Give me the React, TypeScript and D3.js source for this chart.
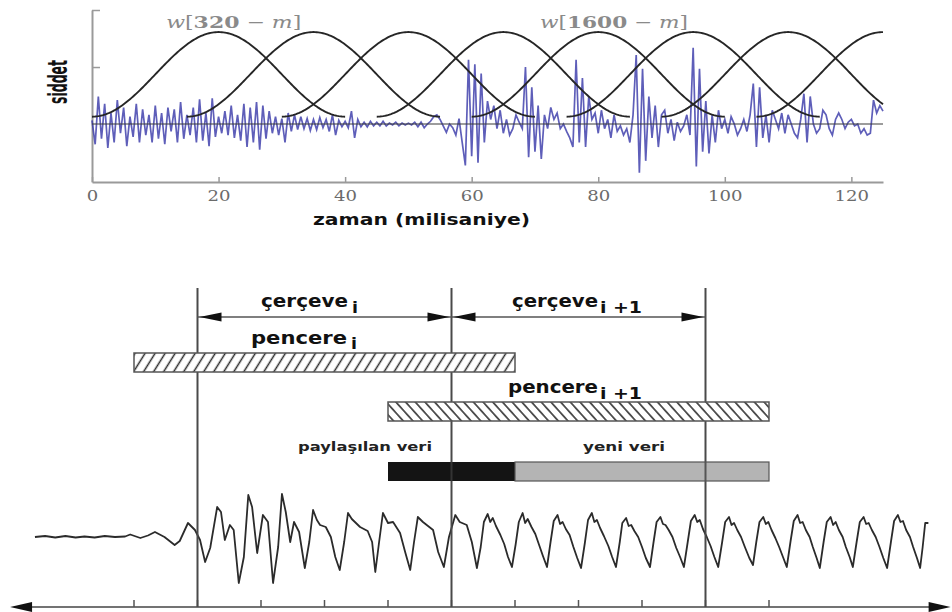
import React, { useRef, useEffect } from "react";
import * as d3 from "d3";

// ---------- top panel: windowed speech signal ----------
// amplitude sampled every 0.5 ms from 0 to 125 ms
const sampleStep = 0.5;
const signal = [
  0.04, -0.22, 0.3, -0.16, 0.22, -0.26, 0.12, -0.2, 0.26, -0.1,
  0.18, -0.24, 0.08, -0.14, 0.22, -0.2, 0.16, -0.12, 0.1, -0.2,
  0.2, -0.16, 0.12, -0.22, 0.18, -0.08, 0.16, -0.2, 0.24, -0.16,
  0.1, -0.12, 0.18, -0.2, 0.27, -0.18, 0.12, -0.24, 0.28, -0.14,
  0.08, -0.1, 0.14, -0.12, 0.2, -0.15, 0.1, -0.18, 0.22, -0.25,
  0.18, -0.2, 0.24, -0.28, 0.2, -0.16, 0.14, -0.1, 0.08, -0.12,
  0.06, -0.2, 0.12, -0.08, 0.1, -0.06, 0.08, -0.05, 0.06, -0.07,
  0.05, -0.06, 0.07, -0.04, 0.05, -0.08, 0.1, -0.12, 0.04, -0.03,
  0.03, -0.04, 0.14, -0.15, 0.05, -0.03, 0.02, -0.03, 0.03, -0.02,
  0.02, -0.02, 0.03, -0.02, 0.01, -0.01, 0.02, -0.02, 0.01, -0.01,
  0.01, -0.01, 0.02, -0.03, 0.02, -0.04, 0.0, 0.03, 0.08, 0.1,
  0.05, -0.02, -0.09, 0.0, -0.04, -0.12, 0.06, -0.2, -0.45, 0.7,
  -0.35, 0.65, -0.42, 0.55, -0.2, 0.25, 0.05, 0.2, -0.05, 0.15,
  -0.1, 0.05, -0.12, -0.05, 0.1, 0.02, -0.05, 0.62, -0.36, 0.4,
  -0.3, 0.2, -0.38, 0.1, -0.05, 0.18, 0.05, 0.12, -0.05, 0.0,
  -0.08, -0.15, -0.25, 0.7, -0.2, 0.5, -0.25, 0.3, 0.05, 0.12,
  -0.1, 0.15, -0.05, 0.05, -0.15, 0.1, -0.08, -0.02, -0.12, -0.05,
  -0.2, 0.1, 0.75, -0.53, 0.6, -0.4, 0.3, -0.15, 0.2, -0.25,
  0.1, 0.15, -0.1, 0.05, -0.18, 0.02, -0.08, -0.02, 0.1, -0.12,
  0.83, -0.46, 0.6, -0.3, 0.25, -0.32, 0.1, -0.2, 0.15, -0.05,
  0.05, -0.1, 0.08, 0.0, -0.12, -0.05, 0.05, -0.08, 0.1, 0.44,
  -0.25, 0.4, -0.15, 0.1, -0.2, 0.15, 0.05, -0.05, 0.12, -0.1,
  0.1, 0.0, -0.1, -0.15, 0.05, 0.33, -0.2, 0.3, 0.0, -0.1,
  -0.05, 0.15, 0.1, -0.05, -0.12, 0.05, 0.12, 0.05, -0.05, 0.02,
  0.05, -0.02, 0.0, -0.1, -0.05, -0.12, -0.1, 0.26, 0.12, 0.2,
  0.14,
];
const windowCenters = [20, 35, 50, 65, 80, 95, 110, 125];
const windowLength = 40; // ms (320 samples)
const windowLabelNums = ["320", "1600"];
const windowLabelAt = [22.4, 82.5];
const windowLabelWidth = [135, 148];
const timeTicks = [0, 20, 40, 60, 80, 100, 120];
const levelTicks = [0.62, 1.24];

// ---------- bottom panel: frames and windows ----------
const frameBounds = [5, 25, 45]; // ms
const windowStart = [0, 20];
const windowEnd = [30, 50];
const sharedSpan = [20, 30];
const newSpan = [30, 50];
const axisTicks = [0, 5, 10, 15, 20, 25, 30, 35, 40, 45, 50];
const axisExtent = [-9.76, 64.3];

// speech waveform vertices [ms, amplitude]
const speechWave: [number, number][] = [
  [-7.8, 0.0], [-7.0, 0.02], [-6.2, -0.01], [-5.4, 0.02], [-4.6, -0.01], [-3.9, 0.01],
  [-3.1, -0.01], [-2.3, 0.02], [-1.5, 0.0], [-0.7, 0.01], [-0.3, 0.05], [0.5, -0.02],
  [1.1, 0.03], [1.65, 0.1], [2.4, 0.0], [3.2, -0.16], [3.6, -0.08], [4.25, 0.28],
  [4.8, 0.14], [5.2, -0.06], [5.6, -0.5], [6.0, -0.22], [6.55, 0.6], [6.85, 0.5],
  [7.15, -0.06], [7.55, 0.24], [7.85, 0.14], [8.25, -0.92], [8.65, -0.4], [9.0, 0.84],
  [9.3, 0.6], [9.7, -0.32], [10.15, 0.44], [10.55, 0.3], [10.95, -0.92], [11.35, -0.2],
  [11.65, 0.86], [11.95, 0.5], [12.3, -0.1], [12.6, 0.3], [13.0, 0.1], [13.45, -0.62],
  [13.8, -0.1], [14.1, 0.54], [14.4, 0.34], [14.65, 0.24], [15.1, 0.2], [15.5, 0.0],
  [15.85, -0.4], [16.2, -0.66], [16.55, -0.1], [16.85, 0.48], [17.15, 0.36], [17.8, 0.2],
  [18.4, 0.12], [18.75, -0.1], [19.0, -0.7], [19.3, -0.1], [19.6, 0.48], [20.0, 0.28],
  [20.4, 0.3], [20.95, 0.08], [21.35, -0.3], [21.75, -0.66], [22.05, -0.1], [22.35, 0.4],
  [22.75, 0.3], [23.15, 0.22], [23.55, 0.14], [23.95, -0.3], [24.4, -0.6], [24.8, 0.0],
  [25.3, 0.44], [25.65, 0.3], [26.2, 0.24], [26.6, -0.1],
  [27.0, -0.62], [27.3, -0.2], [27.55, 0.3], [27.85, 0.46], [28.05, 0.3], [28.25, 0.38], [28.5, 0.22], [28.85, 0.04], [29.15, -0.14], [29.45, -0.4],
  [29.76, -0.6], [30.05, -0.15], [30.3, 0.3], [30.6, 0.48], [30.8, 0.28], [31.0, 0.36], [31.3, 0.2], [31.6, 0.06], [31.9, -0.16], [32.2, -0.38],
  [32.52, -0.6], [32.8, -0.1], [33.05, 0.32], [33.35, 0.44], [33.55, 0.26], [33.75, 0.3], [34.0, 0.16], [34.3, 0.04], [34.6, -0.2], [34.9, -0.42],
  [35.2, -0.62], [35.5, -0.12], [35.75, 0.34], [36.05, 0.48], [36.25, 0.3], [36.45, 0.34], [36.7, 0.18], [37.0, 0.02], [37.35, -0.18], [37.65, -0.4],
  [37.95, -0.6], [38.25, -0.1], [38.45, 0.28], [38.75, 0.38], [38.95, 0.22], [39.15, 0.24], [39.4, 0.12], [39.7, 0.0], [40.0, -0.2], [40.3, -0.42],
  [40.63, -0.6], [40.9, -0.12], [41.15, 0.3], [41.45, 0.4], [41.65, 0.26], [41.85, 0.24], [42.1, 0.14], [42.4, 0.0], [42.7, -0.22], [43.0, -0.4],
  [43.3, -0.6], [43.6, -0.1], [43.85, 0.32], [44.15, 0.44], [44.35, 0.3], [44.55, 0.34], [44.8, 0.16], [45.1, 0.0], [45.4, -0.18], [45.7, -0.4],
  [46.0, -0.6], [46.3, -0.12], [46.55, 0.3], [46.85, 0.4], [47.05, 0.24], [47.25, 0.28], [47.5, 0.14], [47.8, 0.0], [48.1, -0.2], [48.45, -0.42],
  [48.74, -0.56], [49.0, -0.1], [49.25, 0.3], [49.55, 0.4], [49.75, 0.26], [49.95, 0.3], [50.2, 0.14], [50.5, -0.02], [50.8, -0.2], [51.1, -0.4],
  [51.4, -0.6], [51.7, -0.08], [51.95, 0.32], [52.25, 0.44], [52.45, 0.28], [52.65, 0.3], [52.9, 0.14], [53.2, 0.0], [53.45, -0.2], [53.75, -0.42],
  [54.0, -0.62], [54.3, -0.1], [54.55, 0.3], [54.85, 0.4], [55.05, 0.24], [55.25, 0.3], [55.5, 0.14], [55.8, 0.0], [56.05, -0.2], [56.35, -0.4],
  [56.6, -0.6], [56.9, -0.1], [57.15, 0.3], [57.45, 0.4], [57.65, 0.26], [57.85, 0.28], [58.1, 0.14], [58.4, 0.0], [58.7, -0.2], [59.0, -0.42],
  [59.3, -0.62], [59.6, -0.1], [59.85, 0.32], [60.15, 0.44], [60.35, 0.3], [60.55, 0.32], [60.8, 0.14], [61.1, 0.0], [61.35, -0.2], [61.65, -0.42],
  [61.9, -0.62], [62.1, -0.2], [62.3, 0.28], [62.55, 0.28],
];

const Chart = () => {
  const canvas = useRef<HTMLDivElement>(null);

  const drawChart = () => {
    const width = 952;
    const height = 612;
    const root = d3.select(canvas.current);
    root.selectAll("*").remove();

    const svg = root.append("svg")
      .attr("width", width)
      .attr("height", height)
      .style("position", "absolute")
      .style("left", 0)
      .style("top", 0)
      .style("background", "#fff");

    const defs = svg.append("defs");
    const hatch = (id: string, angle: number, gap: number) => {
      const p = defs.append("pattern")
        .attr("id", id)
        .attr("patternUnits", "userSpaceOnUse")
        .attr("width", gap)
        .attr("height", 10)
        .attr("patternTransform", `rotate(${angle})`);
      p.append("rect").attr("width", gap).attr("height", 10).attr("fill", "#fff");
      p.append("line")
        .attr("x1", gap / 2).attr("x2", gap / 2)
        .attr("y1", 0).attr("y2", 10)
        .attr("stroke", "#2a2a2a")
        .attr("stroke-width", 1.5);
    };
    hatch("hatchA", 32, 8.5);
    hatch("hatchB", -42, 7.2);

    const text = (g: any, s: string, x: number, y: number, size: number, len: number, weight = "bold", family = "DejaVu Sans", fill = "#111") =>
      g.append("text")
        .attr("x", x)
        .attr("y", y)
        .attr("font-family", family)
        .attr("font-weight", weight)
        .attr("font-size", size)
        .attr("fill", fill)
        .attr("textLength", len)
        .attr("lengthAdjust", "spacingAndGlyphs")
        .text(s);

    // ================= top panel =================
    const x = d3.scaleLinear().domain([0, 125]).range([92, 883]);
    const y = d3.scaleLinear().domain([-0.63, 1.24]).range([182, 10]);
    const top = svg.append("g");

    const xAxis = top.append("g")
      .attr("transform", `translate(0,${y.range()[0]})`)
      .call(d3.axisBottom(x).tickValues(timeTicks).tickSize(-5).tickSizeOuter(0).tickPadding(9));
    xAxis.select(".domain").attr("stroke", "#9a9a9a").attr("stroke-width", 2);
    xAxis.selectAll(".tick line").attr("stroke", "#9a9a9a").attr("stroke-width", 1.5);
    xAxis.selectAll(".tick text")
      .attr("fill", "#6b6b6b")
      .attr("font-family", "DejaVu Serif")
      .attr("font-size", 14)
      .attr("textLength", (d: any) => String(d).length * 11.5)
      .attr("lengthAdjust", "spacingAndGlyphs");

    const yAxis = top.append("g")
      .attr("transform", `translate(${x(0)},0)`)
      .call(d3.axisLeft(y).tickValues(levelTicks).tickSize(-8).tickSizeOuter(0).tickFormat(() => ""));
    yAxis.select(".domain").attr("stroke", "#9a9a9a").attr("stroke-width", 2);
    yAxis.selectAll(".tick line").attr("stroke", "#9a9a9a").attr("stroke-width", 1.5);

    // signal
    const sigLine = d3.line<number>()
      .x((d, i) => x(i * sampleStep))
      .y((d) => y(d));
    top.append("path")
      .attr("d", sigLine(signal))
      .attr("fill", "none")
      .attr("stroke", "#3636a8")
      .attr("stroke-opacity", 0.8)
      .attr("stroke-width", 1.7);

    // zero line
    top.append("line")
      .attr("x1", x(0)).attr("x2", x(125))
      .attr("y1", y(0)).attr("y2", y(0))
      .attr("stroke", "#3a3a3a")
      .attr("stroke-width", 1.1);

    // Hamming windows
    const winLine = d3.line<[number, number]>().x((d) => x(d[0])).y((d) => y(d[1]));
    windowCenters.forEach((c) => {
      const s = c - windowLength / 2;
      const pts: [number, number][] = d3.range(0, windowLength + 0.001, 0.25)
        .filter((n) => s + n <= 125)
        .map((n) => [s + n, 0.54 - 0.46 * Math.cos((2 * Math.PI * n) / windowLength)]);
      top.append("path")
        .attr("d", winLine(pts))
        .attr("fill", "none")
        .attr("stroke", "#262626")
        .attr("stroke-width", 1.9);
    });

    // window labels
    windowLabelNums.forEach((n, i) => {
      const t = top.append("text")
        .attr("x", x(windowLabelAt[i]))
        .attr("y", 28)
        .attr("text-anchor", "middle")
        .attr("font-family", "DejaVu Serif")
        .attr("font-size", 17)
        .attr("fill", "#8a8a8a")
        .attr("textLength", windowLabelWidth[i])
        .attr("lengthAdjust", "spacingAndGlyphs");
      t.append("tspan").attr("font-style", "italic").text("w");
      t.append("tspan").text("[");
      t.append("tspan").attr("font-weight", "bold").text(n);
      t.append("tspan").text(" \u2212 ");
      t.append("tspan").attr("font-style", "italic").text("m");
      t.append("tspan").text("]");
    });

    // axis titles
    text(top, "zaman (milisaniye)", 313, 225, 16, 217);
    top.append("text")
      .attr("transform", "translate(67,82) scale(2,1) rotate(-90)")
      .attr("text-anchor", "middle")
      .attr("font-family", "DejaVu Sans")
      .attr("font-weight", "bold")
      .attr("font-size", 13)
      .attr("fill", "#111")
      .attr("textLength", 44)
      .attr("lengthAdjust", "spacingAndGlyphs")
      .text("siddet");

    // ================= bottom panel =================
    const xb = d3.scaleLinear().domain([0, 45]).range([134, 705.5]);
    const yb = d3.scaleLinear().domain([-1, 1]).range([587, 487]);
    const bottom = svg.append("g");
    const axisY = 607;

    const arrowHead = (g: any, tx: number, ty: number, dir: number, len: number, hw: number) =>
      g.append("path")
        .attr("d", `M${tx},${ty}L${tx - dir * len},${ty - hw}L${tx - dir * len},${ty + hw}Z`)
        .attr("fill", "#111");

    // speech waveform
    const waveLine = d3.line<[number, number]>().x((d) => xb(d[0])).y((d) => yb(d[1]));
    bottom.append("path")
      .attr("d", waveLine(speechWave))
      .attr("fill", "none")
      .attr("stroke", "#2b2b2b")
      .attr("stroke-width", 1.8)
      .attr("stroke-linejoin", "round");

    // time axis
    bottom.append("line")
      .attr("x1", xb(axisExtent[0]) + 6).attr("x2", xb(axisExtent[1]) - 6)
      .attr("y1", axisY).attr("y2", axisY)
      .attr("stroke", "#444")
      .attr("stroke-width", 1.6);
    arrowHead(bottom, xb(axisExtent[0]), axisY, -1, 22, 5);
    arrowHead(bottom, xb(axisExtent[1]), axisY, 1, 22, 5);
    axisTicks.forEach((t) => {
      bottom.append("line")
        .attr("x1", xb(t)).attr("x2", xb(t))
        .attr("y1", axisY).attr("y2", axisY - 7)
        .attr("stroke", "#555")
        .attr("stroke-width", 1.5);
    });

    // frame boundaries
    frameBounds.forEach((t) => {
      bottom.append("line")
        .attr("x1", xb(t)).attr("x2", xb(t))
        .attr("y1", 288).attr("y2", axisY)
        .attr("stroke", "#4a4a4a")
        .attr("stroke-width", 2);
    });

    // frame arrows
    d3.pairs(frameBounds).forEach(([a, b]) => {
      bottom.append("line")
        .attr("x1", xb(a)).attr("x2", xb(b))
        .attr("y1", 317).attr("y2", 317)
        .attr("stroke", "#555")
        .attr("stroke-width", 1.3);
      arrowHead(bottom, xb(a) + 2, 317, -1, 22, 4.5);
      arrowHead(bottom, xb(b) - 2, 317, 1, 22, 4.5);
    });

    // analysis windows (hatched)
    const winY = [353, 402];
    ["hatchA", "hatchB"].forEach((id, i) => {
      bottom.append("rect")
        .attr("x", xb(windowStart[i]))
        .attr("y", winY[i])
        .attr("width", xb(windowEnd[i]) - xb(windowStart[i]))
        .attr("height", 19)
        .attr("fill", `url(#${id})`)
        .attr("stroke", "#555")
        .attr("stroke-width", 1.5);
    });

    // shared / new data bars
    bottom.append("rect")
      .attr("x", xb(sharedSpan[0])).attr("y", 462)
      .attr("width", xb(sharedSpan[1]) - xb(sharedSpan[0])).attr("height", 19)
      .attr("fill", "#141414");
    bottom.append("rect")
      .attr("x", xb(newSpan[0])).attr("y", 462)
      .attr("width", xb(newSpan[1]) - xb(newSpan[0])).attr("height", 19)
      .attr("fill", "#b4b4b4")
      .attr("stroke", "#555")
      .attr("stroke-width", 1.2);
    // frame line passes over the bars
    bottom.append("line")
      .attr("x1", xb(frameBounds[1])).attr("x2", xb(frameBounds[1]))
      .attr("y1", 462).attr("y2", 481)
      .attr("stroke", "#333").attr("stroke-width", 2);
    bottom.append("line")
      .attr("x1", xb(frameBounds[2])).attr("x2", xb(frameBounds[2]))
      .attr("y1", 462).attr("y2", 481)
      .attr("stroke", "#555").attr("stroke-width", 2);

    // labels
    text(bottom, "çerçeve", 261, 307, 17, 87);
    text(bottom, "i", 352, 313, 15, 6);
    text(bottom, "çerçeve", 512, 307, 17, 86);
    text(bottom, "i +1", 600, 313, 15, 42);
    text(bottom, "pencere", 251, 344, 17, 96);
    text(bottom, "i", 351, 349, 15, 6);
    text(bottom, "pencere", 508, 393, 17, 90);
    text(bottom, "i +1", 600, 399, 15, 42);
    text(bottom, "paylaşılan veri", 298, 451, 13, 134, "bold", "DejaVu Sans", "#222");
    text(bottom, "yeni veri", 583, 451, 13, 82, "bold", "DejaVu Sans", "#222");
  };

  useEffect(() => {
    drawChart();
  }, []);

  return <div ref={canvas}></div>;
};

export default function App() {
  return <Chart />;
}
